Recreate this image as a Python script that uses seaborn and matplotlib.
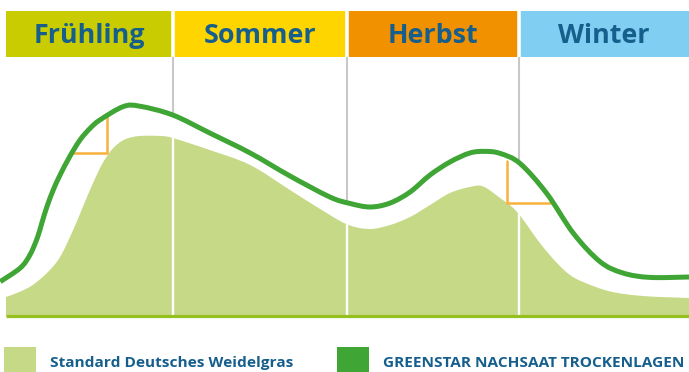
import numpy as np
import matplotlib
matplotlib.use("Agg")
import matplotlib.pyplot as plt
from matplotlib.patches import Patch, PathPatch
from matplotlib.path import Path
import seaborn as sns

# Seasons along the year (x axis in months, starting with spring)
seasons = ["Frühling", "Sommer", "Herbst", "Winter"]
season_edges = [0, 2.93, 5.99, 9.01, 12]
season_colors = ["#c8cc00", "#ffd500", "#f29100", "#80cef2"]

# GREENSTAR NACHSAAT TROCKENLAGEN – growth curve
line_month = [-0.1, 0.25, 0.42, 0.55, 0.63, 0.72, 0.83, 0.95, 1.12, 1.3,
              1.48, 1.65, 2.06, 2.35, 2.93, 3.58, 4.29, 4.99, 5.69, 6.04,
              6.4, 6.75, 7.1, 7.45, 7.8, 8.15, 8.42, 8.68, 9.03, 9.5,
              9.97, 10.44, 10.84, 11.31, 12.0]
line_val = [17.2, 24, 30.5, 39, 46.5, 54.7, 63, 70.5, 79.7, 88,
            93.9, 98, 104.7, 104.9, 100.5, 91.5, 81.5, 70, 59.5, 56.3,
            54.5, 56.5, 62, 70.5, 77, 81.5, 82.3, 81.3, 76.3, 61.3,
            41.3, 27.1, 21.5, 19.3, 19.5]

# Standard Deutsches Weidelgras – growth curve
area_month = [0, 0.25, 0.47, 0.72, 0.95, 1.18, 1.35, 1.53, 1.7, 1.88,
              2.09, 2.35, 2.71, 2.93, 3.58, 4.29, 4.99, 5.69, 6.04, 6.4,
              6.75, 7.1, 7.45, 7.8, 8.15, 8.38, 8.68, 8.98, 9.38, 9.68,
              9.91, 10.14, 10.61, 11.19, 12.0]
area_val = [9.5, 12.2, 15.5, 21.5, 29.5, 43, 54.5, 66.5, 76.5, 83.8,
            88.3, 90, 90, 89, 83, 75.5, 63, 50.5, 45.3, 43.5,
            45.5, 49.5, 55.5, 61.5, 64.5, 64.8, 59, 52, 36.5, 26.5,
            20.5, 17, 12.3, 10, 9]

# Right-angle marks showing the earlier start / later end of growth
mark1_month = [1.15, 1.77, 1.77]
mark1_val = [81.3, 81.3, 101]
mark2_month = [8.81, 8.81, 9.56]
mark2_val = [77.5, 56.7, 56.7]

legend_labels = ["Standard Deutsches Weidelgras", "GREENSTAR NACHSAAT TROCKENLAGEN"]

LIGHT = "#c6d987"
DARK = "#3fa535"
BASE = "#95c11f"
ORANGE = "#f9b13d"
GREY = "#c8c8c8"
BLUE = "#165f8d"


def smooth_path(xs, ys):
    """Smooth curve through the given points (Catmull-Rom as cubic Beziers)."""
    pts = np.column_stack([xs, ys]).astype(float)
    ext = np.vstack([pts[0], pts, pts[-1]])
    verts, codes = [pts[0]], [Path.MOVETO]
    for i in range(len(pts) - 1):
        p0, p1, p2, p3 = ext[i], ext[i + 1], ext[i + 2], ext[i + 3]
        verts += [p1 + (p2 - p0) / 6, p2 - (p3 - p1) / 6, p2]
        codes += [Path.CURVE4] * 3
    return verts, codes


sns.set_theme(style="white")
plt.rcParams["font.family"] = ["Open Sans", "DejaVu Sans"]

fig = plt.figure(figsize=(6.89, 3.72), dpi=100)
ax = fig.add_axes([0, 0, 1, 1])

header_bottom, header_top = 129.5, 152.5

# Season header bands
for i, (name, col) in enumerate(zip(seasons, season_colors)):
    a, b = season_edges[i], season_edges[i + 1]
    ax.bar(a, header_top - header_bottom, width=b - a, bottom=header_bottom,
           align="edge", color=col, linewidth=0, zorder=1)
    ax.text((a + b) / 2, 136.6, name, ha="center", va="baseline",
            fontsize=19.4, fontweight="bold", color=BLUE, zorder=3)
inner = season_edges[1:-1]
ax.vlines(inner, header_bottom, header_top, color="white", lw=2.6, zorder=2)

# Season dividers: grey above the curve, white through the area
line_at = np.interp(inner, line_month, line_val)
area_at = np.interp(inner, area_month, area_val)
ax.vlines(inner, line_at, header_bottom, color=GREY, lw=1.5, zorder=1)

# Filled area for the standard ryegrass
av, ac = smooth_path(area_month, area_val)
av += [(area_month[-1], 0), (area_month[0], 0), (area_month[0], 0)]
ac += [Path.LINETO, Path.LINETO, Path.CLOSEPOLY]
area_patch = PathPatch(Path(av, ac), facecolor=LIGHT, edgecolor="none", zorder=2)
ax.add_patch(area_patch)

white_div = ax.vlines(inner, 0, area_at + 5, color="white", lw=1.7, zorder=3)
white_div.set_clip_path(area_patch)
ax.hlines(0, season_edges[0], season_edges[-1], color=BASE, lw=2.3, zorder=4)

for xs, ys in [(mark1_month, mark1_val), (mark2_month, mark2_val)]:
    ax.plot(xs, ys, color=ORANGE, lw=1.8, zorder=4, solid_joinstyle="miter")

# Curve for the GREENSTAR mixture
lv, lc = smooth_path(line_month, line_val)
ax.add_patch(PathPatch(Path(lv, lc), facecolor="none", edgecolor=DARK,
                       lw=3.6, capstyle="butt", zorder=5))

ax.set_xlim(-0.105, 12)
ax.set_ylim(-28, 158)
ax.axis("off")

# Legend with square swatches along the bottom edge
fs_pt = 11.1
fs_px = fs_pt * 100 / 72
handles = [Patch(facecolor=LIGHT, edgecolor="none"),
           Patch(facecolor=DARK, edgecolor="none")]
fig.legend(handles, legend_labels, loc="upper left",
           bbox_to_anchor=(4 / 689, 1 - 347 / 372), ncol=2, frameon=False,
           borderpad=0, borderaxespad=0,
           handlelength=32 / fs_px, handleheight=2.69,
           handletextpad=14 / fs_px, columnspacing=44 / fs_px,
           prop={"family": ["Open Sans", "DejaVu Sans"], "weight": "bold", "size": fs_pt},
           labelcolor=BLUE)

fig.savefig("out.png", dpi=100)
